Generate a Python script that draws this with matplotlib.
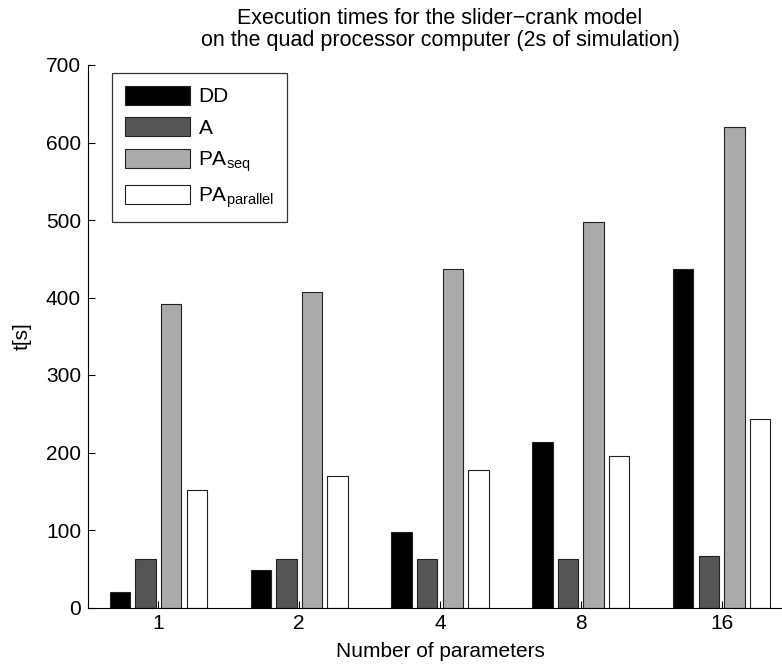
import numpy as np
import matplotlib
matplotlib.use('Agg')
import matplotlib.pyplot as plt

plt.rcParams['font.family'] = ['Liberation Sans', 'DejaVu Sans']
plt.rcParams['mathtext.fontset'] = 'custom'
plt.rcParams['mathtext.rm'] = 'Liberation Sans'
plt.rcParams['mathtext.it'] = 'Liberation Sans:italic'

# data
params = ['1', '2', '4', '8', '16']
dd = [20, 48, 97, 213, 437]
a = [62, 62, 62, 63, 66]
pa_seq = [392, 407, 437, 498, 620]
pa_par = [152, 170, 178, 195, 243]

series = [dd, a, pa_seq, pa_par]
labels = ['DD', 'A', r'PA$_{\mathrm{seq}}$', r'PA$_{\mathrm{parallel}}$']
colors = ['#000000', '#555555', '#aaaaaa', '#ffffff']

fig = plt.figure(figsize=(7.82, 6.70), dpi=100)
ax = fig.add_axes([88 / 782, 1 - 607.5 / 670, 704 / 782, 542.5 / 670])

x = np.arange(1, len(params) + 1)
n = len(series)
gw = n / (n + 1.5)          # matlab grouped bar layout
step = gw / n
w = 0.8 * step
for i, (vals, lab, col) in enumerate(zip(series, labels, colors)):
    off = (i - (n - 1) / 2) * step
    ax.bar(x + off, vals, w, color=col, edgecolor='#222222', linewidth=0.8, label=lab)

ax.set_xlim(0.5, 5.5)
ax.set_ylim(0, 700)
ax.set_xticks(x)
ax.set_xticklabels(params)
ax.set_yticks(range(0, 701, 100))
ax.tick_params(direction='in', length=5, width=0.8, labelsize=15, pad=5)
ax.spines['top'].set_visible(False)
ax.spines['right'].set_visible(False)

ax.set_xlabel('Number of parameters', fontsize=15, labelpad=6)
ax.set_ylabel('t[s]', fontsize=15, labelpad=10)
ax.set_title('Execution times for the slider\u2212crank model\non the quad processor computer (2s of simulation)',
             fontsize=15.5, pad=14, x=(440 - 88) / 704, linespacing=1.05)

leg = ax.legend(loc='upper left', bbox_to_anchor=(112 / 782, 1 - 73 / 670),
                bbox_transform=fig.transFigure, fontsize=15, fancybox=False,
                edgecolor='black', handlelength=3.15, handleheight=1.05,
                borderpad=0.6, labelspacing=0.52, handletextpad=0.4, borderaxespad=0)
leg.get_frame().set_linewidth(0.9)

fig.savefig('out.png', dpi=100)
